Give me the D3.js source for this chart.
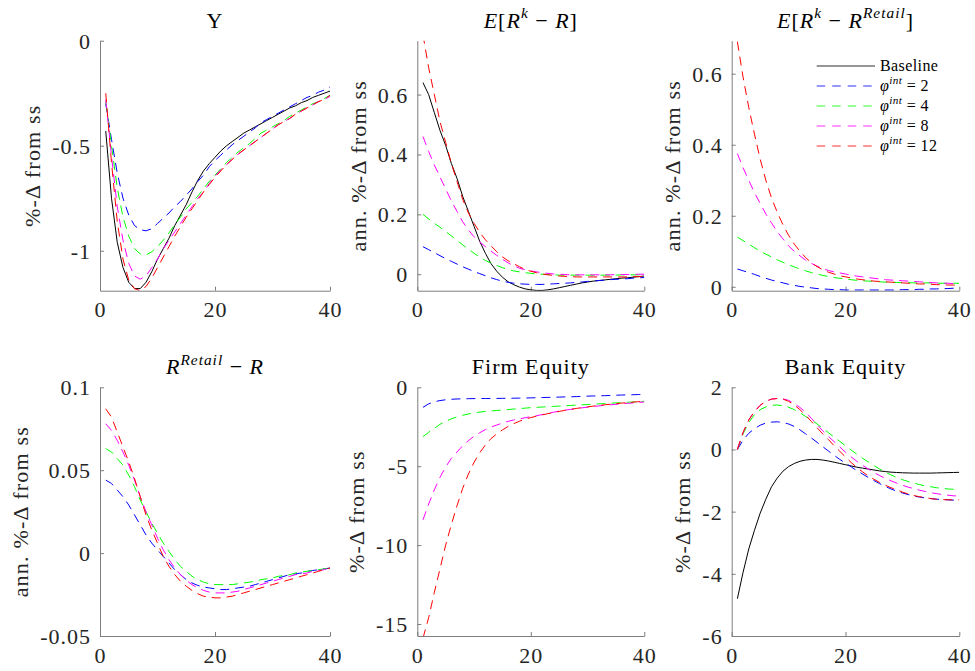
<!DOCTYPE html>
<html>
<head>
<meta charset="utf-8">
<script src="https://cdn.jsdelivr.net/npm/d3@7"></script>
<style>
  body { margin: 0; background: #fff; }
  svg { display: block; }
  svg text { font-family: "Liberation Serif", "Times New Roman", serif; }
</style>
</head>
<body>
<div id="chart"></div>
<script>
// horizon (quarters)
var quarters = d3.range(1, 41);
var xTicks = [0, 20, 40];

// ---- Y ----
var Y_base  = [-0.43,-0.75,-0.96,-1.08,-1.15,-1.18,-1.18,-1.15,-1.10,-1.04,-0.99,-0.94,-0.88,-0.83,-0.78,-0.72,-0.665,-0.62,-0.585,-0.555,-0.525,-0.50,-0.48,-0.46,-0.44,-0.425,-0.41,-0.395,-0.38,-0.365,-0.35,-0.335,-0.32,-0.31,-0.295,-0.285,-0.27,-0.26,-0.25,-0.24];
var Y_phi2  = [-0.30,-0.47,-0.63,-0.75,-0.83,-0.88,-0.90,-0.905,-0.895,-0.87,-0.845,-0.82,-0.79,-0.765,-0.735,-0.705,-0.67,-0.64,-0.60,-0.57,-0.545,-0.52,-0.495,-0.475,-0.455,-0.435,-0.415,-0.39,-0.375,-0.36,-0.345,-0.33,-0.315,-0.30,-0.285,-0.27,-0.26,-0.245,-0.235,-0.22];
var Y_phi4  = [-0.29,-0.50,-0.70,-0.84,-0.93,-0.99,-1.015,-1.02,-1.005,-0.98,-0.95,-0.915,-0.875,-0.84,-0.80,-0.77,-0.74,-0.705,-0.67,-0.64,-0.61,-0.58,-0.555,-0.53,-0.51,-0.49,-0.465,-0.44,-0.425,-0.41,-0.395,-0.38,-0.36,-0.345,-0.33,-0.315,-0.30,-0.29,-0.275,-0.26];
var Y_phi8  = [-0.28,-0.55,-0.79,-0.95,-1.06,-1.12,-1.135,-1.12,-1.08,-1.04,-0.99,-0.95,-0.91,-0.87,-0.83,-0.79,-0.75,-0.72,-0.68,-0.645,-0.615,-0.59,-0.565,-0.54,-0.52,-0.50,-0.48,-0.46,-0.44,-0.42,-0.40,-0.385,-0.37,-0.35,-0.335,-0.32,-0.305,-0.29,-0.28,-0.265];
var Y_phi12 = [-0.25,-0.58,-0.86,-1.04,-1.14,-1.18,-1.19,-1.17,-1.13,-1.08,-1.03,-0.98,-0.93,-0.885,-0.84,-0.80,-0.76,-0.72,-0.685,-0.65,-0.62,-0.59,-0.565,-0.54,-0.52,-0.50,-0.48,-0.46,-0.44,-0.42,-0.40,-0.385,-0.37,-0.35,-0.335,-0.32,-0.305,-0.29,-0.28,-0.26];

// ---- E[R^k - R] ----
var Sk_base  = [0.64,0.60,0.54,0.48,0.43,0.37,0.32,0.26,0.21,0.16,0.11,0.07,0.035,0.01,-0.01,-0.025,-0.035,-0.043,-0.049,-0.052,-0.054,-0.054,-0.052,-0.049,-0.045,-0.041,-0.037,-0.033,-0.029,-0.026,-0.023,-0.021,-0.019,-0.017,-0.015,-0.013,-0.012,-0.010,-0.008,-0.006];
var Sk_phi2  = [0.092,0.082,0.072,0.062,0.052,0.043,0.034,0.025,0.017,0.009,0.002,-0.005,-0.012,-0.018,-0.023,-0.027,-0.030,-0.032,-0.033,-0.034,-0.034,-0.034,-0.033,-0.032,-0.031,-0.030,-0.029,-0.027,-0.026,-0.024,-0.023,-0.021,-0.020,-0.018,-0.017,-0.016,-0.015,-0.013,-0.012,-0.011];
var Sk_phi4  = [0.20,0.185,0.17,0.157,0.143,0.128,0.113,0.098,0.084,0.070,0.057,0.046,0.037,0.029,0.022,0.016,0.011,0.008,0.005,0.003,0.001,0.000,-0.001,-0.002,-0.003,-0.003,-0.003,-0.003,-0.003,-0.003,-0.003,-0.003,-0.003,-0.003,-0.003,-0.002,-0.002,-0.002,-0.002,-0.002];
var Sk_phi8  = [0.46,0.41,0.365,0.325,0.285,0.245,0.21,0.175,0.148,0.125,0.108,0.092,0.077,0.063,0.050,0.038,0.028,0.020,0.015,0.011,0.008,0.005,0.003,0.001,0.000,-0.001,-0.002,-0.002,-0.002,-0.002,-0.002,-0.002,-0.002,-0.002,-0.001,-0.001,-0.001,-0.001,0.000,0.000];
var Sk_phi12 = [0.80,0.69,0.60,0.51,0.44,0.37,0.31,0.25,0.205,0.17,0.14,0.115,0.095,0.075,0.058,0.045,0.035,0.025,0.016,0.010,0.005,0.001,-0.002,-0.004,-0.006,-0.007,-0.008,-0.009,-0.009,-0.009,-0.009,-0.009,-0.009,-0.009,-0.009,-0.009,-0.009,-0.008,-0.008,-0.008];

// ---- E[R^k - R^Retail] ----
var Sr_phi2  = [0.050,0.045,0.040,0.035,0.029,0.024,0.019,0.015,0.011,0.007,0.004,0.001,-0.001,-0.003,-0.005,-0.006,-0.007,-0.008,-0.008,-0.009,-0.009,-0.009,-0.009,-0.009,-0.009,-0.009,-0.009,-0.009,-0.009,-0.008,-0.008,-0.008,-0.007,-0.007,-0.006,-0.006,-0.005,-0.005,-0.004,-0.004];
var Sr_phi4  = [0.14,0.13,0.12,0.11,0.10,0.092,0.084,0.076,0.069,0.062,0.056,0.050,0.045,0.040,0.036,0.032,0.029,0.026,0.024,0.022,0.020,0.018,0.017,0.016,0.015,0.014,0.013,0.013,0.012,0.012,0.012,0.011,0.011,0.011,0.011,0.010,0.010,0.010,0.010,0.010];
var Sr_phi8  = [0.375,0.335,0.30,0.265,0.235,0.205,0.18,0.155,0.135,0.115,0.10,0.087,0.075,0.066,0.058,0.051,0.046,0.042,0.039,0.036,0.033,0.030,0.028,0.026,0.024,0.022,0.020,0.019,0.018,0.017,0.016,0.015,0.014,0.013,0.012,0.011,0.010,0.010,0.009,0.008];
var Sr_phi12 = [0.69,0.59,0.505,0.43,0.36,0.30,0.25,0.21,0.175,0.145,0.12,0.10,0.082,0.068,0.057,0.048,0.041,0.036,0.031,0.028,0.025,0.022,0.020,0.018,0.016,0.015,0.014,0.013,0.012,0.011,0.010,0.009,0.008,0.008,0.007,0.006,0.006,0.005,0.005,0.004];

// ---- R^Retail - R ----
var Rr_phi2  = [0.044,0.042,0.038,0.034,0.029,0.023,0.017,0.011,0.006,0.002,-0.002,-0.006,-0.010,-0.013,-0.016,-0.018,-0.0195,-0.0205,-0.021,-0.0215,-0.022,-0.022,-0.0215,-0.021,-0.0205,-0.020,-0.019,-0.018,-0.017,-0.016,-0.015,-0.014,-0.013,-0.0125,-0.012,-0.011,-0.0105,-0.010,-0.0095,-0.009];
var Rr_phi4  = [0.063,0.061,0.057,0.053,0.047,0.040,0.032,0.025,0.018,0.012,0.006,0.001,-0.004,-0.008,-0.011,-0.014,-0.016,-0.0175,-0.0185,-0.019,-0.019,-0.019,-0.019,-0.0185,-0.018,-0.0175,-0.017,-0.016,-0.0155,-0.015,-0.014,-0.0135,-0.013,-0.012,-0.0115,-0.011,-0.0105,-0.010,-0.0095,-0.009];
var Rr_phi8  = [0.078,0.074,0.068,0.061,0.053,0.044,0.034,0.025,0.017,0.009,0.002,-0.004,-0.009,-0.013,-0.0165,-0.019,-0.021,-0.0225,-0.0235,-0.024,-0.024,-0.024,-0.0235,-0.023,-0.022,-0.021,-0.020,-0.019,-0.018,-0.017,-0.016,-0.015,-0.014,-0.013,-0.0125,-0.012,-0.011,-0.0105,-0.010,-0.009];
var Rr_phi12 = [0.087,0.082,0.073,0.064,0.055,0.045,0.034,0.023,0.014,0.006,-0.002,-0.008,-0.013,-0.017,-0.020,-0.0225,-0.0245,-0.026,-0.0265,-0.027,-0.027,-0.0265,-0.026,-0.025,-0.024,-0.023,-0.022,-0.021,-0.020,-0.019,-0.018,-0.017,-0.016,-0.015,-0.014,-0.013,-0.012,-0.011,-0.010,-0.009];

// ---- Firm Equity ----
var Fe_phi2  = [-1.27,-1.05,-0.92,-0.84,-0.79,-0.76,-0.74,-0.73,-0.72,-0.715,-0.712,-0.71,-0.707,-0.704,-0.70,-0.695,-0.69,-0.684,-0.677,-0.67,-0.66,-0.65,-0.64,-0.63,-0.62,-0.61,-0.60,-0.59,-0.575,-0.56,-0.55,-0.54,-0.53,-0.515,-0.50,-0.49,-0.48,-0.47,-0.46,-0.45];
var Fe_phi4  = [-3.13,-2.85,-2.60,-2.35,-2.15,-2.00,-1.87,-1.77,-1.69,-1.62,-1.57,-1.53,-1.50,-1.47,-1.44,-1.41,-1.38,-1.35,-1.32,-1.29,-1.27,-1.25,-1.23,-1.21,-1.19,-1.17,-1.15,-1.13,-1.11,-1.09,-1.07,-1.05,-1.03,-1.01,-0.99,-0.97,-0.95,-0.93,-0.91,-0.89];
var Fe_phi8  = [-8.4,-7.4,-6.5,-5.7,-5.05,-4.5,-4.1,-3.7,-3.38,-3.1,-2.88,-2.68,-2.52,-2.39,-2.27,-2.16,-2.07,-2.0,-1.93,-1.86,-1.8,-1.73,-1.66,-1.58,-1.51,-1.45,-1.4,-1.35,-1.3,-1.26,-1.22,-1.18,-1.14,-1.11,-1.08,-1.05,-1.02,-0.99,-0.96,-0.93];
var Fe_phi12 = [-15.9,-14.6,-13.0,-11.5,-10.0,-8.7,-7.5,-6.4,-5.5,-4.75,-4.15,-3.65,-3.25,-2.95,-2.7,-2.48,-2.3,-2.15,-2.02,-1.92,-1.83,-1.75,-1.67,-1.6,-1.53,-1.46,-1.4,-1.34,-1.29,-1.24,-1.19,-1.15,-1.11,-1.07,-1.04,-1.0,-0.97,-0.94,-0.91,-0.88];

// ---- Bank Equity ----
var Be_base  = [-4.8,-3.95,-3.2,-2.6,-2.05,-1.6,-1.2,-0.92,-0.7,-0.55,-0.45,-0.38,-0.34,-0.32,-0.32,-0.34,-0.37,-0.41,-0.45,-0.49,-0.53,-0.57,-0.6,-0.63,-0.66,-0.69,-0.71,-0.73,-0.74,-0.75,-0.755,-0.76,-0.76,-0.76,-0.76,-0.755,-0.75,-0.745,-0.74,-0.735];
var Be_phi2  = [0,0.3,0.52,0.67,0.78,0.85,0.88,0.89,0.87,0.82,0.74,0.63,0.5,0.37,0.23,0.09,-0.05,-0.19,-0.32,-0.44,-0.56,-0.68,-0.79,-0.9,-1.0,-1.1,-1.19,-1.27,-1.34,-1.4,-1.45,-1.5,-1.53,-1.56,-1.58,-1.6,-1.61,-1.62,-1.63,-1.63];
var Be_phi4  = [0,0.5,0.87,1.12,1.28,1.37,1.42,1.43,1.41,1.36,1.28,1.18,1.06,0.95,0.82,0.68,0.54,0.4,0.26,0.12,-0.02,-0.15,-0.28,-0.4,-0.52,-0.63,-0.73,-0.82,-0.9,-0.97,-1.03,-1.08,-1.13,-1.17,-1.2,-1.23,-1.25,-1.27,-1.28,-1.29];
var Be_phi8  = [0,0.55,0.95,1.22,1.42,1.55,1.62,1.64,1.63,1.58,1.48,1.35,1.2,1.0,0.8,0.6,0.42,0.25,0.08,-0.09,-0.24,-0.38,-0.51,-0.63,-0.74,-0.84,-0.93,-1.01,-1.08,-1.15,-1.21,-1.26,-1.31,-1.35,-1.39,-1.42,-1.45,-1.47,-1.49,-1.5];
var Be_phi12 = [0,0.55,0.95,1.22,1.42,1.55,1.62,1.64,1.62,1.55,1.43,1.28,1.1,0.9,0.7,0.5,0.32,0.12,-0.06,-0.24,-0.42,-0.58,-0.72,-0.85,-0.96,-1.06,-1.15,-1.23,-1.3,-1.37,-1.43,-1.48,-1.52,-1.55,-1.58,-1.6,-1.61,-1.62,-1.62,-1.62];

var seriesNames  = ["Baseline", "2", "4", "8", "12"];
var seriesColors = ["#000000", "#0000ff", "#00ff00", "#ff00ff", "#ff0000"];

///////////////////////////////////////////////////////////
// layout
///////////////////////////////////////////////////////////
var width = 975, height = 671;
var cols = [[100, 330], [417.3, 644.3], [731.7, 959.3]];
var rows = [[40.7, 290.7], [387.3, 636]];
var fontSize = 22;
var serif = "'Liberation Serif', 'Times New Roman', serif";

var panels = [
  { col: 0, row: 0, title: [{t: "Y"}], ylab: "%-\u0394 from ss",
    ydom: [-1.19, 0], yticks: [-1, -0.5, 0],
    lines: [Y_base, Y_phi2, Y_phi4, Y_phi8, Y_phi12] },
  { col: 1, row: 0,
    title: [{t: "E", i: 1}, {t: "["}, {t: "R", i: 1}, {t: "k", i: 1, sup: 1}, {t: " \u2212 "}, {t: "R", i: 1}, {t: "]"}],
    ylab: "ann. %-\u0394 from ss",
    ydom: [-0.055, 0.78], yticks: [0, 0.2, 0.4, 0.6],
    lines: [Sk_base, Sk_phi2, Sk_phi4, Sk_phi8, Sk_phi12] },
  { col: 2, row: 0,
    title: [{t: "E", i: 1}, {t: "["}, {t: "R", i: 1}, {t: "k", i: 1, sup: 1}, {t: " \u2212 "}, {t: "R", i: 1}, {t: "Retail", i: 1, sup: 1}, {t: "]"}],
    ylab: "ann. %-\u0394 from ss",
    ydom: [-0.011, 0.693], yticks: [0, 0.2, 0.4, 0.6],
    lines: [null, Sr_phi2, Sr_phi4, Sr_phi8, Sr_phi12], legend: true },
  { col: 0, row: 1,
    title: [{t: "R", i: 1}, {t: "Retail", i: 1, sup: 1}, {t: " \u2212 "}, {t: "R", i: 1}],
    ylab: "ann. %-\u0394 from ss",
    ydom: [-0.05, 0.1], yticks: [-0.05, 0, 0.05, 0.1],
    lines: [null, Rr_phi2, Rr_phi4, Rr_phi8, Rr_phi12] },
  { col: 1, row: 1, title: [{t: "Firm Equity"}], ylab: "%-\u0394 from ss",
    ydom: [-15.76, 0], yticks: [-15, -10, -5, 0],
    lines: [null, Fe_phi2, Fe_phi4, Fe_phi8, Fe_phi12] },
  { col: 2, row: 1, title: [{t: "Bank Equity"}], ylab: "%-\u0394 from ss",
    ydom: [-6, 2], yticks: [-6, -4, -2, 0, 2],
    lines: [Be_base, Be_phi2, Be_phi4, Be_phi8, Be_phi12] }
];

var svg = d3.select("#chart").append("svg")
  .attr("width", width)
  .attr("height", height);

// writes a little bit of LaTeX-ish text with italics and superscripts
function mathText(sel, parts, size) {
  var up = false;
  parts.forEach(function(p) {
    var ts = sel.append("tspan").text(p.t);
    if (p.i) ts.attr("font-style", "italic");
    if (p.sup) {
      ts.attr("font-size", size * 0.7);
      if (!up) ts.attr("dy", -size * 0.42);
      up = true;
    } else if (up) {
      ts.attr("dy", size * 0.42);
      up = false;
    }
  });
}

var fmt = function(d) { return String(d); };

panels.forEach(function(p, pi) {
  var xr = cols[p.col], yr = rows[p.row];
  var x = d3.scaleLinear().domain([0, 40]).range(xr);
  var y = d3.scaleLinear().domain(p.ydom).range([yr[1], yr[0]]);

  var g = svg.append("g").attr("class", "panel");

  g.append("clipPath").attr("id", "clip" + pi)
    .append("rect")
      .attr("x", xr[0]).attr("y", yr[0])
      .attr("width", xr[1] - xr[0]).attr("height", yr[1] - yr[0]);

  // axes
  var xAxis = g.append("g")
    .attr("transform", "translate(0," + yr[1] + ")")
    .call(d3.axisBottom(x).tickValues(xTicks).tickFormat(fmt)
      .tickSizeInner(-4).tickSizeOuter(0).tickPadding(11));

  var yAxis = g.append("g")
    .attr("transform", "translate(" + xr[0] + ",0)")
    .call(d3.axisLeft(y).tickValues(p.yticks).tickFormat(fmt)
      .tickSizeInner(-4).tickSizeOuter(0).tickPadding(9));

  [xAxis, yAxis].forEach(function(a) {
    a.attr("font-family", serif).attr("font-size", fontSize);
    a.select(".domain").attr("stroke", "#7d7d7d").attr("stroke-width", 1);
    a.selectAll(".tick line").attr("stroke", "#7d7d7d");
    a.selectAll(".tick text")
      .attr("fill", "#262626")
      .attr("letter-spacing", 1);
  });
  yAxis.selectAll(".tick text").attr("dy", "0.34em");

  // lines
  var line = d3.line()
    .x(function(d, i) { return x(quarters[i]); })
    .y(function(d) { return y(d); });

  var lg = g.append("g").attr("clip-path", "url(#clip" + pi + ")");
  p.lines.forEach(function(vals, k) {
    if (!vals) return;
    lg.append("path")
      .datum(vals)
      .attr("fill", "none")
      .attr("stroke", seriesColors[k])
      .attr("stroke-width", 1)
      .attr("stroke-dasharray", k === 0 ? null : "9,6")
      .attr("d", line);
  });

  // title
  var title = g.append("text")
    .attr("x", (xr[0] + xr[1]) / 2)
    .attr("y", yr[0] - 13)
    .attr("text-anchor", "middle")
    .attr("fill", "#000")
    .attr("font-family", serif)
    .attr("font-size", fontSize)
    .attr("letter-spacing", 1);
  mathText(title, p.title, fontSize);

  // y label, placed left of the widest tick label
  var minX = d3.min(yAxis.selectAll(".tick text").nodes(), function(n) {
    var b = n.getBBox();
    return xr[0] + b.x;
  });
  var lx = minX - 12, ly = (yr[0] + yr[1]) / 2;
  g.append("text")
    .attr("transform", "translate(" + lx + "," + ly + ") rotate(-90)")
    .attr("text-anchor", "middle")
    .attr("fill", "#262626")
    .attr("font-family", serif)
    .attr("font-size", fontSize)
    .attr("letter-spacing", 1.2)
    .text(p.ylab);

  // legend
  if (p.legend) {
    var leg = g.append("g");
    var lx0 = 816.7, lx1 = 875, ly0 = 66, step = 20;
    seriesNames.forEach(function(name, k) {
      var yy = ly0 + k * step;
      leg.append("line")
        .attr("x1", lx0).attr("x2", lx1)
        .attr("y1", yy).attr("y2", yy)
        .attr("stroke", seriesColors[k])
        .attr("stroke-opacity", 0.55)
        .attr("stroke-width", 1.3)
        .attr("stroke-dasharray", k === 0 ? null : "8.5,7");
      var t = leg.append("text")
        .attr("x", lx1 + 5).attr("y", yy + 5)
        .attr("fill", "#000")
        .attr("font-family", serif)
        .attr("font-size", 16)
        .attr("letter-spacing", 0.4);
      if (k === 0) {
        t.text(name);
      } else {
        mathText(t, [{t: "\u03c6", i: 1}, {t: "int", i: 1, sup: 1}, {t: " = " + name}], 16);
      }
    });
  }
});
</script>
</body>
</html>
